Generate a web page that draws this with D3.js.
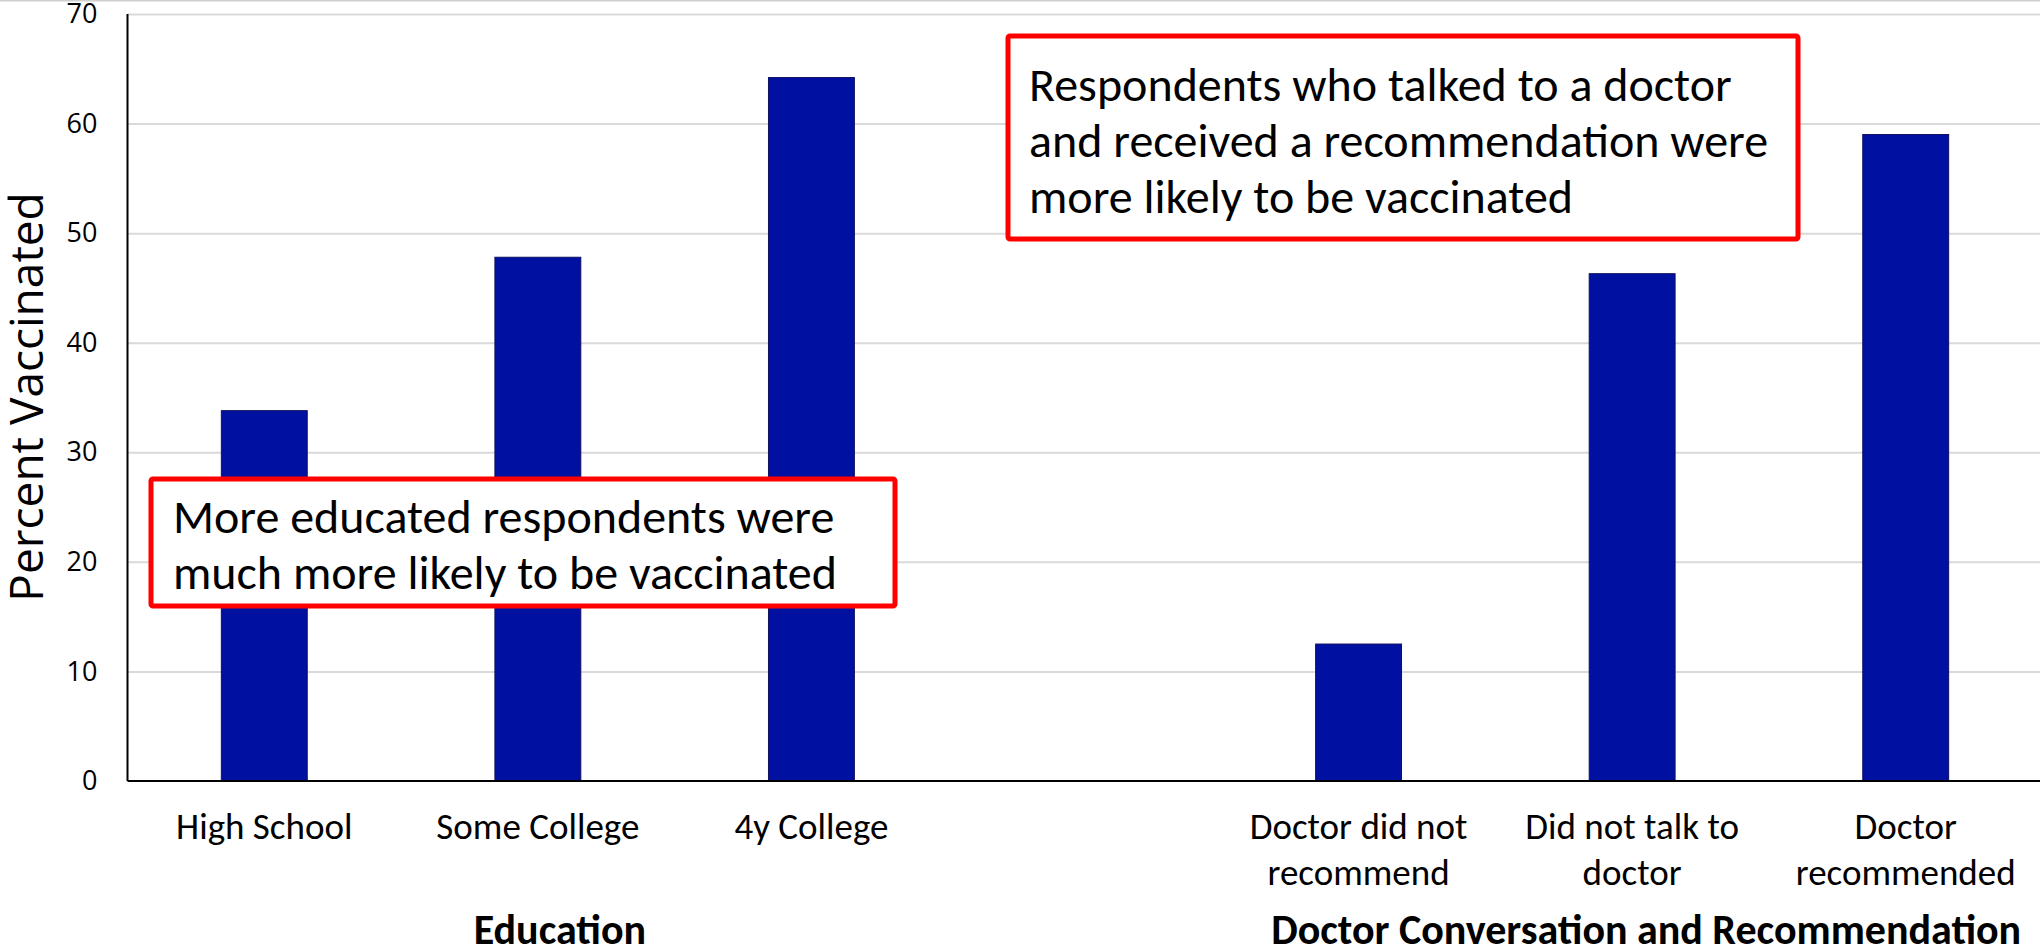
<!DOCTYPE html>
<html>
<head>
<meta charset="utf-8">
<script src="https://cdn.jsdelivr.net/npm/d3@7"></script>
<style>
  body { margin: 0; background: #fff; }
  svg { display: block; }
</style>
</head>
<body>
<svg id="chart" width="2040" height="952"></svg>
<script>
// data
const eduCategories = ["High School", "Some College", "4y College"]
const eduValues = [33.8, 47.8, 64.2]
const docCategories = ["Doctor did not recommend", "Did not talk to doctor", "Doctor recommended"]
const docValues = [12.5, 46.3, 59.0]
const docLabelLines = [["Doctor did not", "recommend"], ["Did not talk to", "doctor"], ["Doctor", "recommended"]]
const groupTitles = ["Education", "Doctor Conversation and Recommendation"]
const yTicks = [0, 10, 20, 30, 40, 50, 60, 70]
const notes = [
    ["More educated respondents were", "much more likely to be vaccinated"],
    ["Respondents who talked to a doctor", "and received a recommendation were", "more likely to be vaccinated"]
]

const W = 2040, H = 952
const plotLeft = 127.5, plotTop = 14, plotBottom = 781, plotRight = 2042.5
const calibri = "Carlito, Lato, 'Open Sans', sans-serif"

const svg = d3.select("#chart")

// spacer slot between the two groups
const domain = eduCategories.concat(["__gap__"], docCategories)
const bars = eduCategories.map((c, i) => ({ cat: c, value: eduValues[i], lines: [c] }))
    .concat(docCategories.map((c, i) => ({ cat: c, value: docValues[i], lines: docLabelLines[i] })))

const x = d3.scaleBand()
    .domain(domain)
    .range([plotLeft, plotRight])
    .paddingInner(0.686)
    .paddingOuter(0.343)

const y = d3.scaleLinear()
    .domain([0, 70])
    .range([plotBottom, plotTop])

// faint frame line along the top
svg.append("line")
    .attr("x1", 0).attr("x2", W)
    .attr("y1", 0.8).attr("y2", 0.8)
    .style("stroke", "#d0d0d0")
    .style("stroke-width", 1.5)

// gridlines
svg.append("g")
    .attr("transform", "translate(" + plotLeft + ",0)")
    .call(d3.axisLeft(y).tickValues(yTicks.slice(1)).tickSize(-(W - plotLeft)).tickFormat(""))
    .call(g => g.select(".domain").remove())
    .selectAll("line")
    .style("stroke", "#d9d9d9")
    .style("stroke-width", 2)

// y axis labels
const yAxis = svg.append("g")
    .attr("transform", "translate(" + plotLeft + ",0)")
    .call(d3.axisLeft(y).tickValues(yTicks).tickSize(0).tickPadding(30))
yAxis.select(".domain").remove()
yAxis.selectAll("text")
    .style("font-family", "'Open Sans', sans-serif")
    .style("font-size", "27px")
    .style("fill", "#000")

// bars
svg.selectAll(".bar")
    .data(bars)
    .enter()
    .append("rect")
    .attr("class", "bar")
    .attr("x", d => x(d.cat))
    .attr("width", x.bandwidth())
    .attr("y", d => y(d.value))
    .attr("height", d => y(0) - y(d.value))
    .style("fill", "#0010a0")
    .style("stroke", "#101060")
    .style("stroke-width", 1)

// axis lines
svg.append("line")
    .attr("x1", plotLeft).attr("x2", plotLeft)
    .attr("y1", y(70)).attr("y2", y(0))
    .style("stroke", "#000").style("stroke-width", 2)
svg.append("line")
    .attr("x1", plotLeft).attr("x2", W)
    .attr("y1", y(0)).attr("y2", y(0))
    .style("stroke", "#000").style("stroke-width", 2)

// category labels, one or two lines
bars.forEach(function (d) {
    const t = svg.append("text")
        .attr("text-anchor", "middle")
        .style("font-family", calibri)
        .style("font-size", "37px")
        .style("fill", "#000")
    d.lines.forEach(function (line, i) {
        t.append("tspan")
            .attr("x", x(d.cat) + x.bandwidth() / 2)
            .attr("y", 839 + i * 46)
            .text(line)
    })
})

// group titles
const eduMid = (x(eduCategories[0]) + x(eduCategories[2]) + x.bandwidth()) / 2
const docMid = (x(docCategories[0]) + x(docCategories[2]) + x.bandwidth()) / 2
svg.selectAll(".group-title")
    .data([eduMid + 22, docMid + 14])
    .enter()
    .append("text")
    .attr("class", "group-title")
    .attr("x", d => d)
    .attr("y", 944)
    .attr("text-anchor", "middle")
    .style("font-family", calibri)
    .style("font-weight", "bold")
    .style("font-size", "42px")
    .text((d, i) => groupTitles[i])

// y title
svg.append("text")
    .attr("transform", "translate(43," + 397 + ") rotate(-90)")
    .attr("text-anchor", "middle")
    .style("font-family", "'Open Sans', sans-serif")
    .style("font-size", "46px")
    .text("Percent Vaccinated")

// annotation boxes
const boxes = [
    { x: 151, y: 479, w: 744, h: 127, tx: 173, ty: 533 },
    { x: 1008, y: 36, w: 790, h: 203, tx: 1029, ty: 101 }
]
boxes.forEach(function (b, k) {
    svg.append("rect")
        .attr("x", b.x).attr("y", b.y)
        .attr("width", b.w).attr("height", b.h)
        .attr("rx", 2)
        .style("fill", "#fff")
        .style("stroke", "#ff0000")
        .style("stroke-width", 5)
    const t = svg.append("text")
        .style("font-family", calibri)
        .style("font-size", "48px")
        .style("fill", "#000")
    notes[k].forEach(function (line, i) {
        t.append("tspan")
            .attr("x", b.tx)
            .attr("y", b.ty + i * 56)
            .text(line)
    })
})
</script>
</body>
</html>
